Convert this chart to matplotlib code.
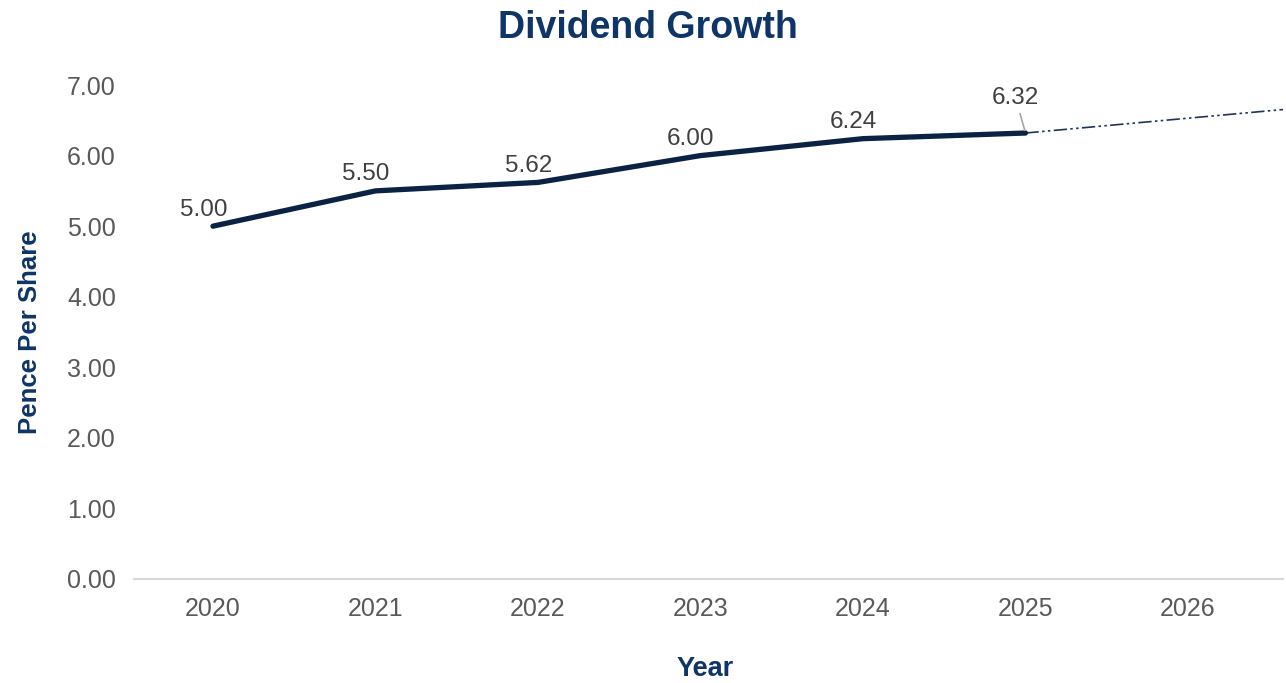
import numpy as np
import matplotlib
matplotlib.use("Agg")
import matplotlib.pyplot as plt

plt.rcParams['font.family'] = ['Liberation Sans', 'DejaVu Sans']

# data
years = ['2020', '2021', '2022', '2023', '2024', '2025', '2026']
dividend = [5.00, 5.50, 5.62, 6.00, 6.24, 6.32]
labels = ['5.00', '5.50', '5.62', '6.00', '6.24', '6.32']
# dashed projection from the last actual value
forecast_idx = [5, 6]
forecast = [6.32, 6.53]
y_ticks = [0, 1, 2, 3, 4, 5, 6, 7]

navy = '#0b2242'
title_blue = '#0e3468'
grey_txt = '#595959'

fig = plt.figure(figsize=(12.86, 6.83), dpi=100)
ax = fig.add_axes([0.1042, 0.1523, 0.8935, 0.7232])

x = np.arange(len(dividend))
ax.plot(x, dividend, color=navy, lw=3.8, solid_capstyle='round', solid_joinstyle='miter', zorder=3)

# projection line extended to right edge of the plot
xlim = (-0.486, 6.585)
slope = (forecast[1] - forecast[0]) / (forecast_idx[1] - forecast_idx[0])
fx = np.array([forecast_idx[0], xlim[1]])
fy = forecast[0] + slope * (fx - forecast_idx[0])
ax.plot(fx, fy, color='#1d3557', lw=1.2, dashes=(8, 2, 1.5, 2, 1.5, 2), zorder=2)

# data labels
for i, (v, t) in enumerate(zip(dividend, labels)):
    if i == len(dividend) - 1:
        ax.annotate(t, xy=(i, v), xytext=(-7, 17), textcoords='offset points',
                    ha='center', va='bottom', fontsize=17.5, color='#404040',
                    arrowprops=dict(arrowstyle='-', color='#a6a6a6', lw=1.2,
                                    shrinkA=1, shrinkB=2))
    else:
        ax.annotate(t, xy=(i, v), xytext=(-7, 4), textcoords='offset points',
                    ha='center', va='bottom', fontsize=17.5, color='#404040')

ax.set_xlim(*xlim)
ax.set_ylim(0, 7)
ax.set_xticks(np.arange(len(years)))
ax.set_xticklabels(years)
ax.set_yticks(y_ticks)
ax.set_yticklabels([f'{v:.2f}' for v in y_ticks])
ax.tick_params(axis='both', length=0, labelsize=18, labelcolor=grey_txt)
ax.tick_params(axis='x', pad=13)
ax.tick_params(axis='y', pad=13)

for s in ['top', 'right', 'left']:
    ax.spines[s].set_visible(False)
ax.spines['bottom'].set_color('#d9d9d9')
ax.spines['bottom'].set_linewidth(1.5)

ax.set_xlabel('Year', fontsize=19.5, fontweight='bold', color=title_blue)
ax.xaxis.set_label_coords(0.497, -0.155)
ax.set_ylabel('Pence Per Share', fontsize=18.5, fontweight='bold', color=title_blue, labelpad=18)
fig.suptitle('Dividend Growth', x=0.504, y=0.985, fontsize=27, fontweight='bold', color=title_blue)

fig.savefig('out.png', dpi=100)
